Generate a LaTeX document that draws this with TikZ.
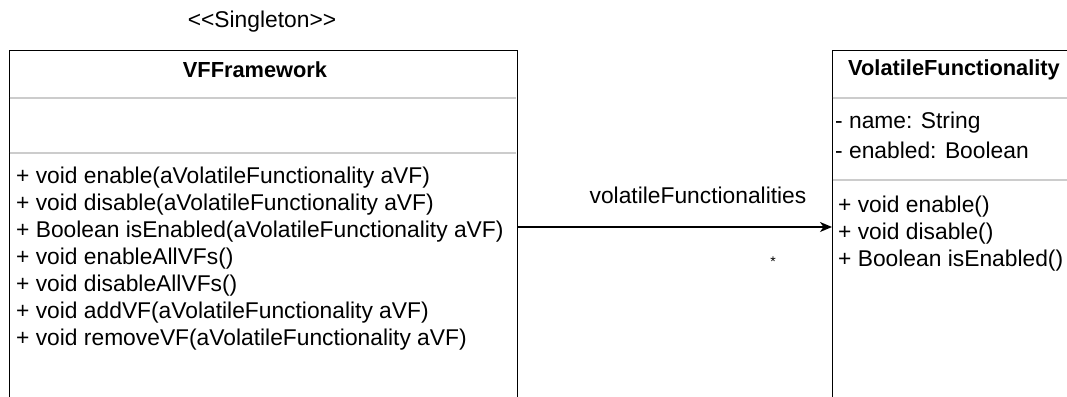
\documentclass[tikz,border=0pt]{standalone}
\usepackage{fontspec}
\setmainfont{Liberation Sans}
\usetikzlibrary{positioning,arrows.meta}

\begin{document}
\begin{tikzpicture}[x=1pt,y=-1pt,
  every node/.style={font=\fontsize{22.8}{27}\selectfont,inner sep=0pt},
  classbox/.style={draw,line width=1.1pt,anchor=north west},
  divider/.style={gray!40,line width=1.6pt},
  member/.style={anchor=west},
  classname/.style={font=\fontsize{21.8}{27}\selectfont\bfseries}]
\useasboundingbox (0,0) rectangle (1067,396);
% VFFramework
\node (stereo) at (262,22) {<{}<Singleton>{}>};
\node[classbox,minimum width=508pt,minimum height=400pt] (vff) at (9,50) {};
\node[classname] (vffname) at (255,70) {VFFramework};
\draw[divider] (9.6,98) -- (516.4,98);
\draw[divider] (9.6,153) -- (516.4,153);
\foreach \m [count=\i] in {+ void enable(aVolatileFunctionality aVF),
  + void disable(aVolatileFunctionality aVF),
  + Boolean isEnabled(aVolatileFunctionality aVF),
  + void enableAllVFs(), + void disableAllVFs(),
  + void addVF(aVolatileFunctionality aVF),
  + void removeVF(aVolatileFunctionality aVF)}
  \node[member] (vffop\i) at (16,{178+27*(\i-1)}) {\m};
% VolatileFunctionality
\node[classbox,minimum width=244pt,minimum height=400pt] (vf) at (832,50) {};
\node[classname] (vfname) at (954,70) {VolatileFunctionality};
\draw[divider] (832.6,98) -- (1067,98);
\draw[divider] (832.6,180) -- (1067,180);
\node[member] (vfattr1) at (835,123) {- name: String};
\node[member] (vfattr2) at (835,150) {- enabled: Boolean};
\node[member] (vfop1) at (838,207) {+ void enable()};
\node[member] (vfop2) at (838,234) {+ void disable()};
\node[member] (vfop3) at (838,261) {+ Boolean isEnabled()};
% association
\draw[line width=1.3pt,-{Stealth[length=12pt,width=10pt,inset=3.5pt]}]
  ([yshift=5pt]vff.east |- vffop3) -- ([yshift=5pt]vf.west |- vffop3);
\node (rolename) at (698,195) {volatileFunctionalities};
\node[font=\fontsize{14}{14}\selectfont] (mult) at (773,262) {*};
\end{tikzpicture}
\end{document}
